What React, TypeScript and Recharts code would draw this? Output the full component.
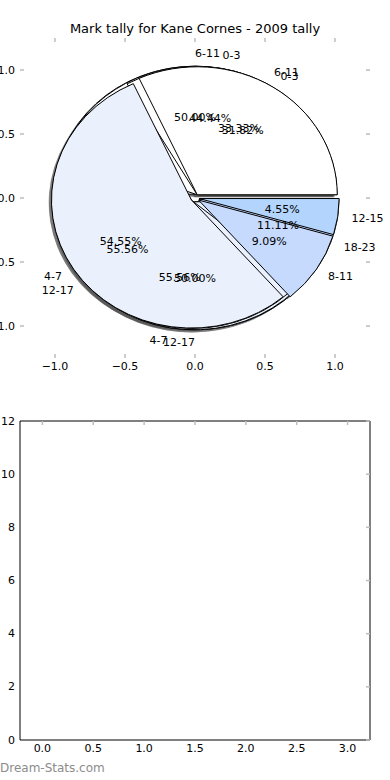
import React from 'react';
import { PieChart, Pie, Sector, ScatterChart, Scatter, XAxis, YAxis } from 'recharts';

// pie layers, drawn bottom to top (last one sits on top)
const labelsD = ['6-11', '12-17'];
const countsD = [1, 1];
const labelsC = ['0-3', '4-7'];
const countsC = [4, 5];
const labelsB = ['6-11', '12-17', '18-23'];
const countsB = [3, 5, 1];
const labelsA = ['0-3', '4-7', '8-11', '12-15'];
const countsA = [7, 12, 2, 1];

const sliceColors = ['#ffffff', '#eaf1fd', '#c6dafd', '#b3d4fd'];

const pieTicks = [-1, -0.5, 0, 0.5, 1];
const barXTicks = [0, 0.5, 1, 1.5, 2, 2.5, 3];
const barYTicks = [0, 2, 4, 6, 8, 10, 12];

const FONT = '"DejaVu Sans", Verdana, sans-serif';
const CX = 195;
const CY = 198;
const RX = 140; // px per unit, horizontal
const RY = 128; // px per unit, vertical
const EXPLODE = 0.03;

const layers = [
  { key: 'D', names: labelsD, counts: countsD },
  { key: 'C', names: labelsC, counts: countsC },
  { key: 'B', names: labelsB, counts: countsB },
  { key: 'A', names: labelsA, counts: countsA },
].map((l) => ({
  key: l.key,
  data: l.names.map((name, i) => ({ name, value: l.counts[i], fill: sliceColors[i] })),
}));

const fmt = (v: number) => (v < 0 ? '\u2212' + Math.abs(v).toFixed(1) : v.toFixed(1));

// elliptical, exploded wedge; shadow=true draws only the offset shadow
const makeWedge = (shadow: boolean) => (props: any) => {
  const { cx, cy, outerRadius, startAngle, endAngle, midAngle, fill } = props;
  const rad = (midAngle * Math.PI) / 180;
  const dx = EXPLODE * RX * Math.cos(rad);
  const dy = -EXPLODE * RY * Math.sin(rad);
  const k = RY / RX;
  const t = `translate(${cx + dx},${cy + dy}) scale(1,${k}) translate(${-cx},${-cy})`;
  return (
    <g transform={t}>
      {shadow ? (
        <Sector
          cx={cx - 2.8}
          cy={cy + 2.6 / k}
          outerRadius={outerRadius}
          startAngle={startAngle}
          endAngle={endAngle}
          fill="#4d4d4d"
          fillOpacity={0.5}
          stroke="none"
        />
      ) : (
        <Sector
          cx={cx}
          cy={cy}
          outerRadius={outerRadius}
          startAngle={startAngle}
          endAngle={endAngle}
          fill={fill}
          stroke="#000"
          strokeWidth={1}
          vectorEffect="non-scaling-stroke"
        />
      )}
    </g>
  );
};

const ShadowWedge = makeWedge(true);
const Wedge = makeWedge(false);
const Nothing = () => <g />;

const wedgeLabel = (props: any) => {
  const { cx, cy, midAngle, percent, name } = props;
  const rad = (midAngle * Math.PI) / 180;
  const c = Math.cos(rad);
  const s = Math.sin(rad);
  const ex = cx + EXPLODE * RX * c;
  const ey = cy - EXPLODE * RY * s;
  return (
    <g fontFamily={FONT} fontSize={11} fill="#000">
      <text x={ex + 1.1 * RX * c} y={ey - 1.1 * RY * s} textAnchor={c > 0 ? 'start' : 'end'} dominantBaseline="central">
        {name}
      </text>
      <text x={ex + 0.6 * RX * c} y={ey - 0.6 * RY * s} textAnchor="middle" dominantBaseline="central">
        {(percent * 100).toFixed(2) + '%'}
      </text>
    </g>
  );
};

const TickBottom = ({ x, y, payload, mark, showText }: any) => (
  <g>
    {mark && <line x1={x} y1={y} x2={x} y2={y - 4} stroke="#bdbdbd" strokeWidth={1.5} />}
    {showText && (
      <text x={x} y={y + 12} textAnchor="middle" fontFamily={FONT} fontSize={11} fill="#000">
        {fmt(payload.value)}
      </text>
    )}
  </g>
);

const TickTop = ({ x, y }: any) => <line x1={x} y1={y} x2={x} y2={y + 4} stroke="#bdbdbd" strokeWidth={1.5} />;

const TickLeft = ({ x, y, payload, mark, intLabels }: any) => (
  <g>
    {mark && <line x1={x} y1={y} x2={x + 4} y2={y} stroke="#bdbdbd" strokeWidth={1.5} />}
    <text x={x - 5} y={y} textAnchor="end" dominantBaseline="central" fontFamily={FONT} fontSize={11} fill="#000">
      {intLabels ? String(payload.value) : fmt(payload.value)}
    </text>
  </g>
);

const TickRight = ({ x, y }: any) => <line x1={x} y1={y} x2={x - 4} y2={y} stroke="#bdbdbd" strokeWidth={1.5} />;

const piePass = (l: any, pass: string, shape: any, label: any) => (
  <Pie
    key={pass + l.key}
    data={l.data}
    dataKey="value"
    nameKey="name"
    cx={CX}
    cy={CY}
    outerRadius={RX}
    startAngle={0}
    endAngle={360}
    shape={shape}
    inactiveShape={shape}
    activeShape={shape}
    isAnimationActive={false}
    label={label}
    labelLine={false}
  />
);

export default function App() {
  return (
    <div style={{ position: 'absolute', left: 0, top: 0, width: 390, height: 780, background: '#fff', overflow: 'hidden' }}>
      {/* axes for the pie panel */}
      <div style={{ position: 'absolute', left: 0, top: 0 }}>
        <ScatterChart width={390} height={380} margin={{ top: 0, right: 0, bottom: 0, left: 0 }}>
          <XAxis xAxisId="b" type="number" dataKey="x" domain={[-1.25, 1.25]} ticks={pieTicks} height={22} axisLine={false} tickLine={false} tickSize={0} tickMargin={0} tick={<TickBottom mark showText />} allowDataOverflow />
          <XAxis xAxisId="t" orientation="top" type="number" dataKey="x" domain={[-1.25, 1.25]} ticks={pieTicks} height={38} axisLine={false} tickLine={false} tickSize={0} tickMargin={0} tick={<TickTop />} allowDataOverflow />
          <YAxis yAxisId="l" type="number" dataKey="y" domain={[-1.25, 1.25]} ticks={pieTicks} width={20} axisLine={false} tickLine={false} tickSize={0} tickMargin={0} tick={<TickLeft mark />} allowDataOverflow />
          <YAxis yAxisId="r" orientation="right" type="number" dataKey="y" domain={[-1.25, 1.25]} ticks={pieTicks} width={20} axisLine={false} tickLine={false} tickSize={0} tickMargin={0} tick={<TickRight />} allowDataOverflow />
          <Scatter xAxisId="b" yAxisId="l" data={[]} isAnimationActive={false} />
        </ScatterChart>
      </div>

      {/* the stacked pies: all shadows, then all wedges, then all texts */}
      <div style={{ position: 'absolute', left: 0, top: 0 }}>
        <PieChart width={390} height={390} margin={{ top: 0, right: 0, bottom: 0, left: 0 }}>
          {layers.map((l) => piePass(l, 's', ShadowWedge, false))}
          {layers.map((l) => piePass(l, 'w', Wedge, false))}
          {layers.map((l) => piePass(l, 't', Nothing, wedgeLabel))}
        </PieChart>
      </div>

      <div style={{ position: 'absolute', left: 0, top: 21, width: 390, textAlign: 'center', fontFamily: FONT, fontSize: 13, color: '#000' }}>
        Mark tally for Kane Cornes - 2009 tally
      </div>

      {/* empty bar panel */}
      <div style={{ position: 'absolute', left: 0, top: 400 }}>
        <ScatterChart width={390} height={380} margin={{ top: 0, right: 0, bottom: 0, left: 0 }}>
          <XAxis xAxisId="b" type="number" dataKey="x" domain={[-0.22, 3.22]} ticks={barXTicks} height={40} axisLine={{ stroke: '#000' }} tickLine={false} tickSize={0} tickMargin={0} tick={<TickBottom showText />} allowDataOverflow />
          <XAxis xAxisId="t" orientation="top" type="number" dataKey="x" domain={[-0.22, 3.22]} ticks={barXTicks} height={21} axisLine={{ stroke: '#000' }} tickLine={false} tickSize={0} tickMargin={0} tick={<TickTop />} allowDataOverflow />
          <YAxis yAxisId="l" type="number" dataKey="y" domain={[0, 12]} ticks={barYTicks} width={20} axisLine={{ stroke: '#000' }} tickLine={false} tickSize={0} tickMargin={0} tick={<TickLeft intLabels />} allowDataOverflow />
          <YAxis yAxisId="r" orientation="right" type="number" dataKey="y" domain={[0, 12]} ticks={barYTicks} width={20} axisLine={{ stroke: '#000' }} tickLine={false} tickSize={0} tickMargin={0} tick={<TickRight />} allowDataOverflow />
          <Scatter xAxisId="b" yAxisId="l" data={[]} isAnimationActive={false} />
        </ScatterChart>
      </div>

      <div style={{ position: 'absolute', left: 0, top: 761, fontFamily: FONT, fontSize: 12, color: '#8c8c8c' }}>
        Dream-Stats.com
      </div>
    </div>
  );
}
